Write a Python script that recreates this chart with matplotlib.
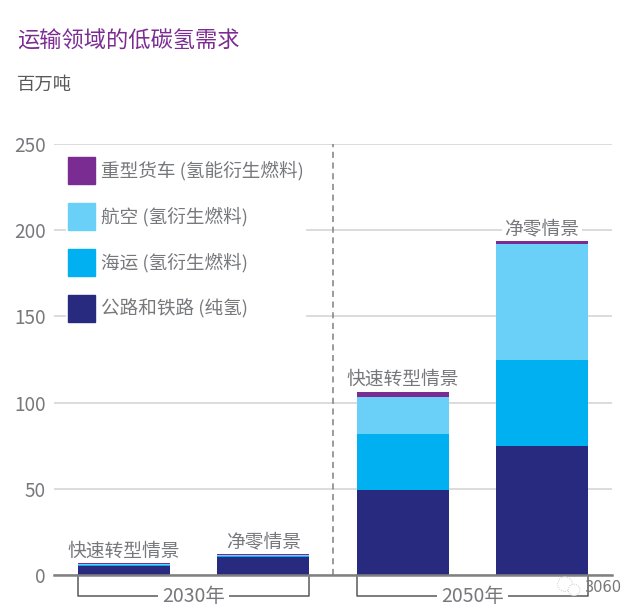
import matplotlib
matplotlib.use("Agg")
import matplotlib.pyplot as plt
from matplotlib.patches import Patch

plt.rcParams['font.family'] = ['Noto Sans CJK SC', 'DejaVu Sans']

scenarios = ['快速转型情景', '净零情景', '快速转型情景', '净零情景']
road_rail = [5.4, 10.4, 49.3, 74.8]
shipping = [0.3, 0.4, 32.5, 49.9]
aviation = [0.5, 0.6, 21.4, 67.3]
trucks = [0.6, 0.6, 3.1, 1.5]
series_names = ['公路和铁路 (纯氢)', '海运 (氢衍生燃料)', '航空 (氢衍生燃料)', '重型货车 (氢能衍生燃料)']
year_labels = ['2030年', '2050年']
yticks = [0, 50, 100, 150, 200, 250]

navy = '#272a7f'
blue = '#00b0f0'
sky = '#6ad0f8'
purple = '#7b2c92'
grey = '#77787b'
colors = [navy, blue, sky, purple]

W, H = 641, 615
fig = plt.figure(figsize=(W / 100, H / 100), dpi=100)
ax = fig.add_axes([54 / W, (H - 575) / H, (612 - 54) / W, (575 - 144) / H])

x = list(range(len(scenarios)))
width = 0.66
bottom = [0] * len(x)
for vals, c in zip([road_rail, shipping, aviation, trucks], colors):
    ax.bar(x, vals, width, bottom=bottom, color=c, zorder=3)
    bottom = [b + v for b, v in zip(bottom, vals)]

ax.set_xlim(-0.5025, 3.503)
ax.set_ylim(0, 250)
ax.set_xticks([])
ax.set_yticks(yticks)
ax.tick_params(axis='y', length=0, labelsize=13.6, labelcolor=grey, pad=6)
for s in ax.spines.values():
    s.set_visible(False)
ax.yaxis.grid(True, color='#dcdcdc', lw=1.4, zorder=0)
ax.set_axisbelow(True)
ax.axhline(0, color='#808080', lw=1.8, zorder=4, clip_on=False)
ax.axvline(1.5, color='#808080', lw=1.1, ls=(0, (4, 3)), zorder=2)

# scenario names above the bars, white box stays under the bars
for xi, name, total in zip(x, scenarios, bottom):
    ax.annotate(name, (xi, total), xytext=(0, 8.8), textcoords='offset points',
                ha='center', va='center', fontsize=13.5, color=grey, zorder=2.8,
                bbox=dict(fc='white', ec='none', pad=2))

# brackets under the axis
for (a, b), label in zip([(0, 1), (2, 3)], year_labels):
    left, right = a - width / 2, b + width / 2
    ax.plot([left, left, right, right], [0, -12.4, -12.4, 0], color='#58595b', lw=1.1,
            clip_on=False, zorder=2)
    ax.text((left + right) / 2, -12.2, label, ha='center', va='center', fontsize=14,
            color=grey, bbox=dict(fc='white', ec='none', pad=3), zorder=3, clip_on=False)

handles = [Patch(color=c) for c in colors[::-1]]
leg = ax.legend(handles, series_names[::-1], loc='upper left',
                bbox_to_anchor=(12 / 558, 1 - 11 / 431), frameon=True, facecolor='white',
                edgecolor='none', framealpha=1, fontsize=13.4, labelcolor=grey,
                handlelength=1.45, handleheight=1.85, handletextpad=0.32,
                labelspacing=1.02, borderpad=0.1, borderaxespad=0)
leg.set_zorder(2.5)
leg.get_frame().set_linewidth(0)

fig.text(17 / W, 1 - 41 / H, '运输领域的低碳氢需求', fontsize=16, color=purple,
         weight='medium', va='center', ha='left')
fig.text(17 / W, 1 - 85 / H, '百万吨', fontsize=13.2, color='#58595b', va='center', ha='left')

# watermark
fig.text(585 / W, 1 - 588 / H, '3060', fontsize=10.5, color='#777777', va='center', ha='left',
         family='DejaVu Sans', zorder=6)
ax_w = fig.add_axes([0, 0, 1, 1], facecolor='none')
ax_w.set_axis_off()
ax_w.set_xlim(0, W)
ax_w.set_ylim(H, 0)
ax_w.scatter([565, 574], [584, 590], s=[110, 70], facecolor='white', edgecolor='#bbbbbb',
             linewidth=0.6, linestyle=':')

fig.savefig('out.png', dpi=100)
